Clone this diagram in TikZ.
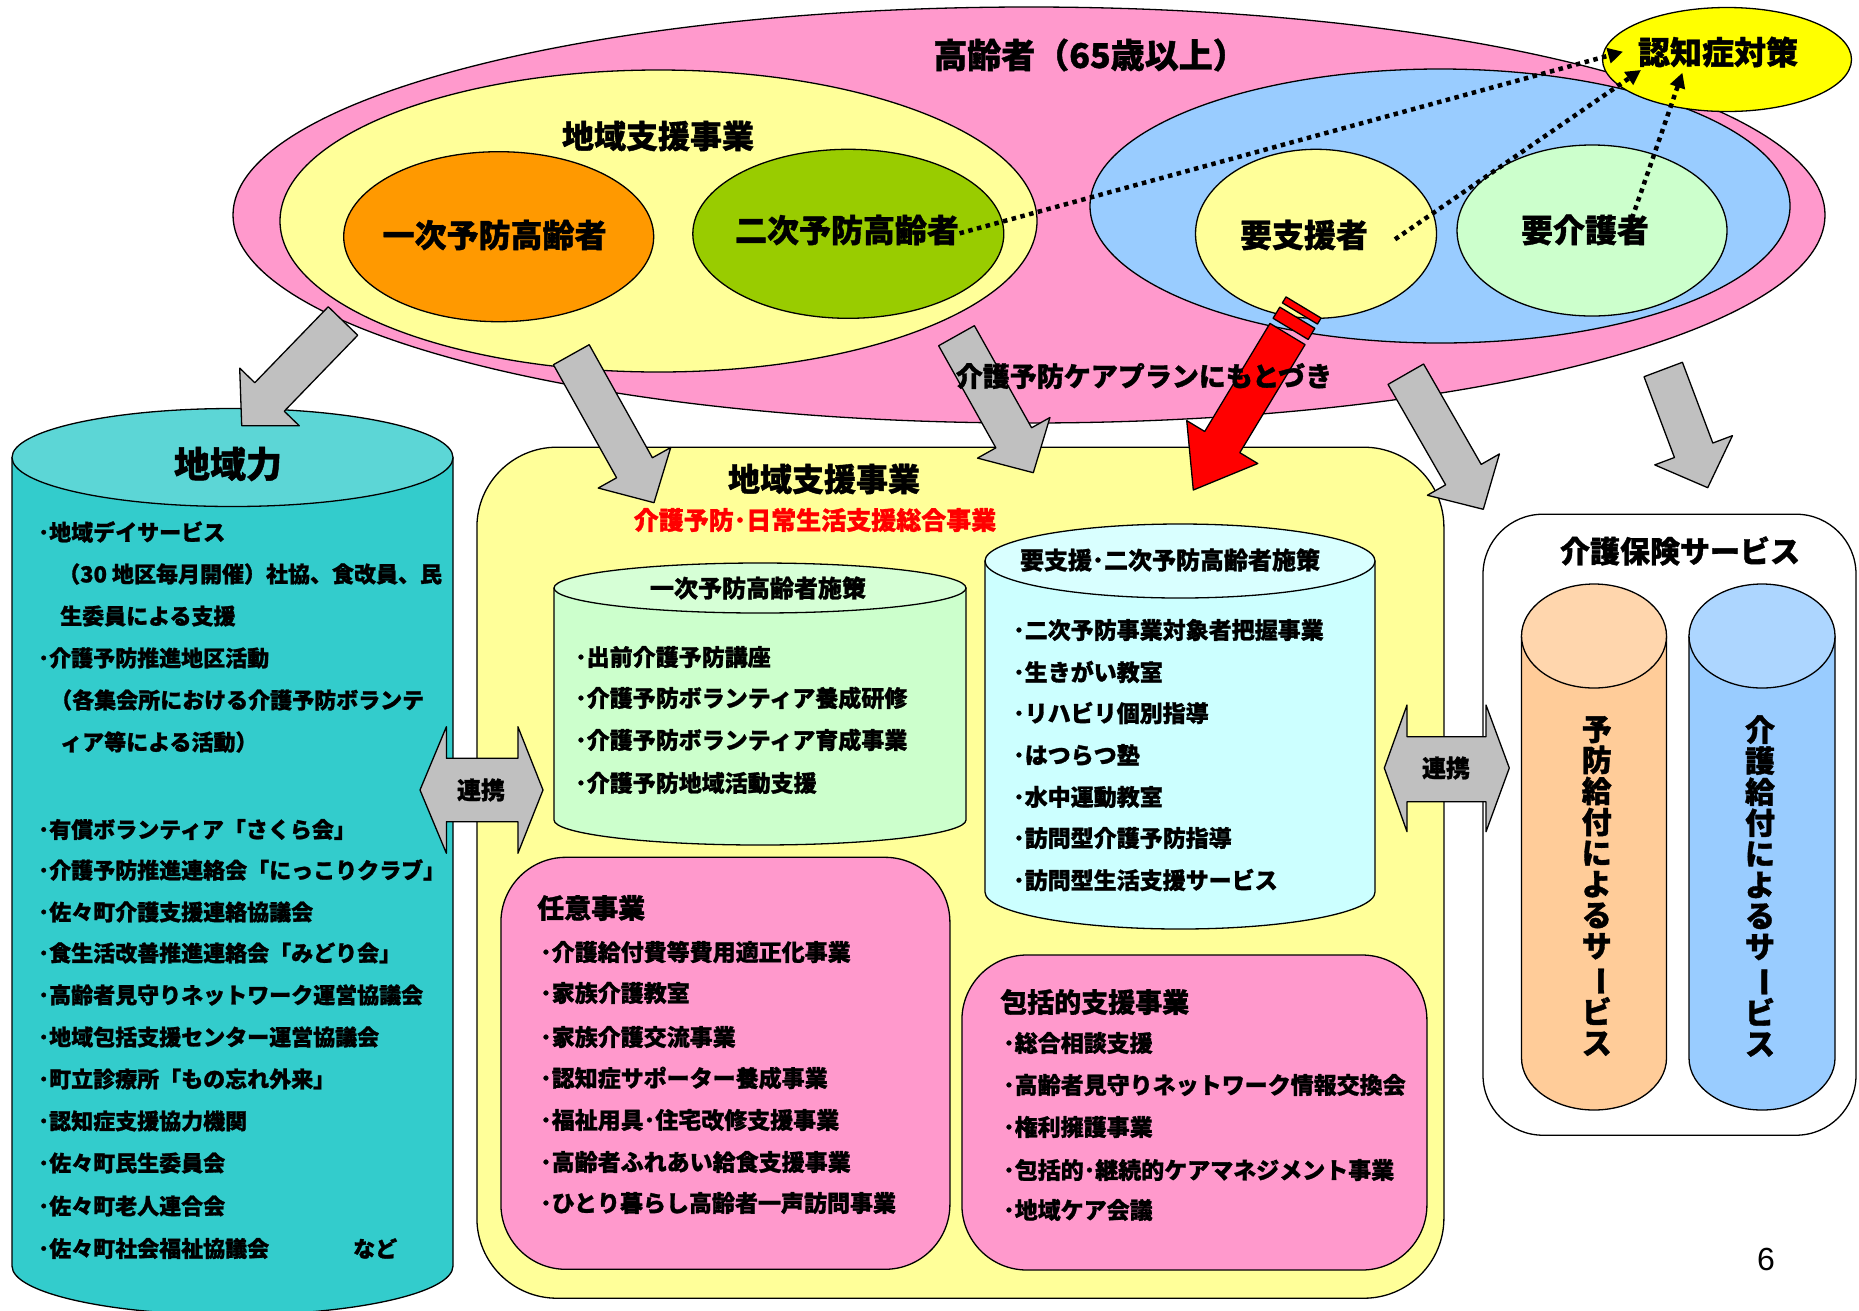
\documentclass[tikz,border=0pt]{standalone}
\usepackage{fontspec}
\usepackage{graphicx}
\setmainfont{Noto Sans CJK JP}[BoldFeatures={FakeBold=1.2}]
\newfontfamily\arialf{Liberation Sans}
\usetikzlibrary{shapes.geometric,arrows.meta}
\definecolor{pinkE}{HTML}{FF99CC}
\definecolor{yellowE}{HTML}{FFFF99}
\definecolor{orangeE}{HTML}{FF9900}
\definecolor{greenE}{HTML}{99CC00}
\definecolor{blueE}{HTML}{99CCFF}
\definecolor{mintE}{HTML}{CCFFCC}
\definecolor{dementE}{HTML}{FFFF00}
\definecolor{grayA}{HTML}{C0C0C0}
\definecolor{tealB}{HTML}{33CCCC}
\definecolor{tealT}{HTML}{5CD6D6}
\definecolor{cylAB}{HTML}{CCFFCC}
\definecolor{cylAT}{HTML}{D6FFD6}
\definecolor{cylBB}{HTML}{CCFFFF}
\definecolor{cylBT}{HTML}{D9FFFF}
\definecolor{orCB}{HTML}{FFCC99}
\definecolor{orCT}{HTML}{FFD6AD}
\definecolor{blCB}{HTML}{99CCFF}
\definecolor{blCT}{HTML}{ADD6FF}
\newcommand\jsz[1]{\fontsize{#1}{#1}\selectfont\bfseries}
% block arrow: #1 style, tail (#2,#3), tip (#4,#5), head length #6
\newcommand\blkarrow[6]{%
  \pgfmathsetmacro\bkang{atan2(-((#5)-(#3)),(#4)-(#2))}%
  \pgfmathsetmacro\bklen{veclen((#4)-(#2),(#5)-(#3))}%
  \pgfmathsetmacro\bkbase{\bklen-(#6)}%
  \draw[#1,shift={(#2,#3)},rotate=\bkang] (0,-20.5) -- (\bkbase,-20.5) -- (\bkbase,-41.5) -- (\bklen,0) -- (\bkbase,41.5) -- (\bkbase,20.5) -- (0,20.5) -- cycle;}
% cylinder: #1 name, #2 cx, #3 rx, #4 ytop, #5 ybot, #6 ry, #7 body, #8 top
\newcommand\cylshape[8]{%
  \draw[line width=1.3pt,fill=#7] (#2-#3,#4) -- (#2-#3,#5) arc[start angle=180,end angle=360,x radius=#3pt,y radius=#6pt] -- (#2+#3,#4) -- cycle;
  \draw[line width=1.3pt,fill=#8] (#2,#4) ellipse [x radius=#3pt,y radius=#6pt];
  \coordinate (#1) at (#2,#4);}
\begin{document}
\begin{tikzpicture}[x=1pt,y=-1pt,line join=round,
  outl/.style={draw=black,line width=1.3pt},
  ell/.style={ellipse,outl,inner sep=0pt},
  lbl/.style={inner sep=0pt,text=black},
  item/.style={inner sep=0pt,anchor=west,font=\jsz{23}},
  chiiki/.style={inner sep=0pt,anchor=west,font=\jsz{22}},
  rbox/.style={outl,inner sep=0pt},
  dotarrow/.style={line width=4.5pt,dash pattern=on 4.5pt off 4.5pt,-{Triangle[length=15pt,width=15pt]}},
  grayarrow/.style={outl,fill=grayA},
  redarrow/.style={outl,fill=red}]
\useasboundingbox (0,0) rectangle (1859,1310);
\fill[white] (0,0) rectangle (1859,1310);

% ---------- top ellipses ----------
\node[ell,fill=pinkE,minimum width=1592pt,minimum height=416pt] (elderly) at (1029,215) {};
\node[ell,fill=yellowE,minimum width=757pt,minimum height=302pt] (chiikiE) at (658.5,221) {};
\node[ell,fill=orangeE,minimum width=310pt,minimum height=170pt] (ichiji) at (498.7,236.7) {};
\node[ell,fill=greenE,minimum width=311pt,minimum height=169pt] (niji) at (848.3,233.8) {};
\node[ell,fill=blueE,minimum width=700pt,minimum height=274pt] (youE) at (1440,206) {};
\node[ell,fill=yellowE,minimum width=241pt,minimum height=169pt] (youshien) at (1316,233.8) {};
\node[ell,fill=mintE,minimum width=270pt,minimum height=171pt] (youkaigo) at (1592,230.5) {};
\node[ell,fill=dementE,minimum width=249pt,minimum height=104pt] (ninchi) at (1727,59.5) {};

\node[lbl,font=\jsz{34}] (elderlyT) at (1090,55) {高齢者（65歳以上）};
\node[lbl,font=\jsz{32}] (chiikiET) at (658,136) {地域支援事業};
\node[lbl,font=\jsz{32}] (ichijiT) at (494.6,235) {一次予防高齢者};
\node[lbl,font=\jsz{32}] (nijiT) at (847,230) {二次予防高齢者};
\node[lbl,font=\jsz{32}] (youshienT) at (1304,235) {要支援者};
\node[lbl,font=\jsz{32}] (youkaigoT) at (1585,230) {要介護者};
\node[lbl,font=\jsz{32}] (ninchiT) at (1718,52) {認知症対策};

% dotted arrows
\coordinate (d1s) at (959.6,233.3);
\coordinate (d1e) at (1623,51.7);
\coordinate (d2s) at (1395,239.3);
\coordinate (d2e) at (1641,70);
\coordinate (d3s) at (1632,218.3);
\coordinate (d3e) at (1682.4,72.7);
\draw[dotarrow] (d1s) -- (d1e);
\draw[dotarrow] (d2s) -- (d2e);
\draw[dotarrow] (d3s) -- (d3e);

% ---------- 地域力 ----------
\cylshape{chiikiryoku}{232.5}{220.5}{457.5}{1266}{49}{tealB}{tealT}
\node[lbl,font=\jsz{36}] (chiikiryokuT) at (228,464) {地域力};
\node[chiiki] (c1) at (38,532) {･地域デイサービス};
\node[chiiki] (c2) at (58,574) {（30 地区毎月開催）社協、食改員、民};
\node[chiiki] (c3) at (60,616) {生委員による支援};
\node[chiiki] (c4) at (38,658) {･介護予防推進地区活動};
\node[chiiki] (c5) at (50,700) {（各集会所における介護予防ボランテ};
\node[chiiki] (c6) at (60,742) {ィア等による活動）};
\node[chiiki] (c7) at (38,829.5) {･有償ボランティア「さくら会」};
\node[chiiki] (c8) at (38,870) {･介護予防推進連絡会「にっこりクラブ」};
\node[chiiki] (c9) at (38,912) {･佐々町介護支援連絡協議会};
\node[chiiki] (c10) at (38,953) {･食生活改善推進連絡会「みどり会」};
\node[chiiki] (c11) at (38,995) {･高齢者見守りネットワーク運営協議会};
\node[chiiki] (c12) at (38,1037) {･地域包括支援センター運営協議会};
\node[chiiki] (c13) at (38,1079) {･町立診療所「もの忘れ外来」};
\node[chiiki] (c14) at (38,1121) {･認知症支援協力機関};
\node[chiiki] (c15) at (38,1163) {･佐々町民生委員会};
\node[chiiki] (c16) at (38,1206) {･佐々町老人連合会};
\node[chiiki] (c17) at (38,1248.5) {･佐々町社会福祉協議会};
\node[chiiki] (c18) at (353,1248.5) {など};

% ---------- 地域支援事業 box ----------
\node[rbox,fill=yellowE,rounded corners=80pt,minimum width=967pt,minimum height=851pt] (shien) at (960.4,872.7) {};
\node[lbl,font=\jsz{32}] (shienT) at (824,479) {地域支援事業};
\node[lbl,font=\jsz{25},text=red] (shienSub) at (815,520) {介護予防･日常生活支援総合事業};

\cylshape{cylA}{760}{206}{588}{820}{25}{cylAB}{cylAT}
\node[lbl,font=\jsz{24}] (cylAT) at (758,588) {一次予防高齢者施策};
\node[item] (a1) at (575,657) {･出前介護予防講座};
\node[item] (a2) at (575,698) {･介護予防ボランティア養成研修};
\node[item] (a3) at (575,740) {･介護予防ボランティア育成事業};
\node[item] (a4) at (575,783) {･介護予防地域活動支援};

\cylshape{cylB}{1180}{195}{561}{892}{37}{cylBB}{cylBT}
\node[lbl,font=\jsz{24}] (cylBT) at (1170,560) {要支援･二次予防高齢者施策};
\node[item] (b1) at (1013,630) {･二次予防事業対象者把握事業};
\node[item] (b2) at (1013,672) {･生きがい教室};
\node[item] (b3) at (1013,713) {･リハビリ個別指導};
\node[item] (b4) at (1013,755) {･はつらつ塾};
\node[item] (b5) at (1013,797) {･水中運動教室};
\node[item] (b6) at (1013,838) {･訪問型介護予防指導};
\node[item] (b7) at (1013,880) {･訪問型生活支援サービス};

\node[rbox,fill=pinkE,rounded corners=65pt,minimum width=449pt,minimum height=412pt] (nini) at (725.4,1063.3) {};
\node[lbl,font=\jsz{27},anchor=west] (niniT) at (537,908) {任意事業};
\node[item] (n1) at (540,952) {･介護給付費等費用適正化事業};
\node[item] (n2) at (540,993) {･家族介護教室};
\node[item] (n3) at (540,1037) {･家族介護交流事業};
\node[item] (n4) at (540,1078) {･認知症サポーター養成事業};
\node[item] (n5) at (540,1120) {･福祉用具･住宅改修支援事業};
\node[item] (n6) at (540,1162) {･高齢者ふれあい給食支援事業};
\node[item] (n7) at (540,1203) {･ひとり暮らし高齢者一声訪問事業};

\node[rbox,fill=pinkE,rounded corners=65pt,minimum width=465pt,minimum height=315pt] (houkatsu) at (1194.4,1112.5) {};
\node[lbl,font=\jsz{27},anchor=west] (houkatsuT) at (1000,1002) {包括的支援事業};
\node[item] (h1) at (1003,1043) {･総合相談支援};
\node[item] (h2) at (1003,1085) {･高齢者見守りネットワーク情報交換会};
\node[item] (h3) at (1003,1127) {･権利擁護事業};
\node[item] (h4) at (1003,1170) {･包括的･継続的ケアマネジメント事業};
\node[item] (h5) at (1003,1210) {･地域ケア会議};

% ---------- 介護保険サービス ----------
\node[rbox,fill=white,rounded corners=60pt,minimum width=373pt,minimum height=621pt] (hoken) at (1669.5,824.7) {};
\node[lbl,font=\jsz{30}] (hokenT) at (1680,551) {介護保険サービス};
\cylshape{cylOr}{1594}{72.5}{636}{1058}{52}{orCB}{orCT}
\cylshape{cylBl}{1762}{73}{636}{1058}{52}{blCB}{blCT}
\node[lbl,font=\fontsize{30}{31}\selectfont\bfseries,align=center] (yobouT) at (1596.7,886) {予\\防\\給\\付\\に\\よ\\る\\サ\\\rotatebox[origin=c]{-90}{ー}\\ビ\\ス};
\node[lbl,font=\fontsize{30}{31}\selectfont\bfseries,align=center] (kaigoT) at (1760,886) {介\\護\\給\\付\\に\\よ\\る\\サ\\\rotatebox[origin=c]{-90}{ー}\\ビ\\ス};

% ---------- 連携 double arrows ----------
\draw[grayarrow] (420,790) -- (446.4,726.7) -- (446.4,758.3) -- (517.9,758.3) -- (517.9,726.7) -- (543,790) -- (517.9,853.3) -- (517.9,821.7) -- (446.4,821.7) -- (446.4,853.3) -- cycle;
\node[lbl,font=\jsz{24}] (renkei1) at (481,790) {連携};
\draw[grayarrow] (1384.3,768) -- (1407,705) -- (1407,736.7) -- (1486,736.7) -- (1486,705) -- (1509.3,768) -- (1486,831.7) -- (1486,801.7) -- (1407,801.7) -- (1407,831.7) -- cycle;
\node[lbl,font=\jsz{24}] (renkei2) at (1446,768) {連携};

% ---------- block arrows ----------
\blkarrow{grayarrow}{343}{321}{241.7}{425.7}{40}
\blkarrow{grayarrow}{571.3}{354.7}{654}{502.7}{40}
\blkarrow{grayarrow}{956.5}{335.7}{1033.3}{472.7}{40}
\blkarrow{grayarrow}{1405.8}{374.2}{1483.3}{509.3}{40}
\blkarrow{grayarrow}{1663.2}{369.5}{1707.7}{487.7}{40}
% red striped arrow
\blkarrow{redarrow}{1287.5}{334}{1193.3}{490}{56}
\pgfmathsetmacro\redang{atan2(-(490-334),1193.3-1287.5)}
\begin{scope}[shift={(1287.5,334)},rotate=\redang]
\draw[redarrow] (-31,-20.5) rectangle (-24,20.5);
\draw[redarrow] (-19,-20.5) rectangle (-6,20.5);
\end{scope}

\node[lbl,font=\jsz{27}] (careplan) at (1144,376) {介護予防ケアプランにもとづき};

\node[lbl,font=\arialf\fontsize{32}{32}\selectfont] (pageno) at (1766,1259) {6};
\end{tikzpicture}
\end{document}
